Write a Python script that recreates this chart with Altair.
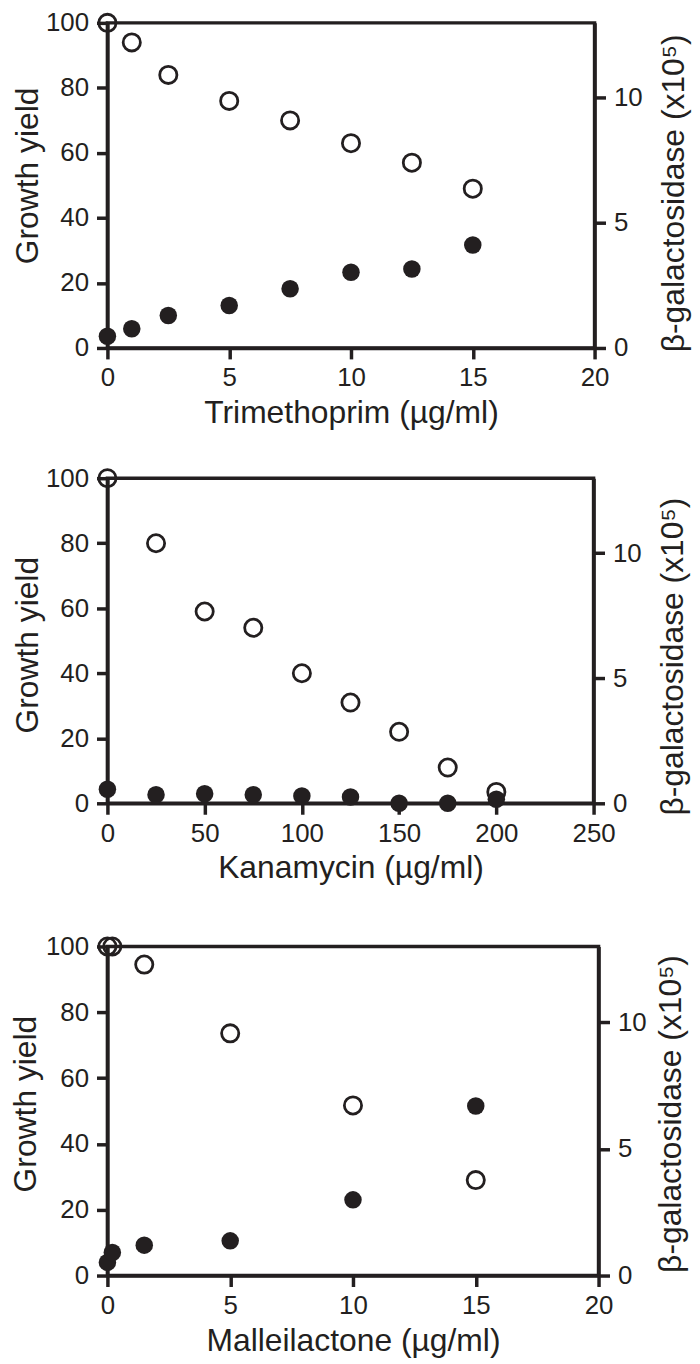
import altair as alt
import pandas as pd

BLACK = "#231f20"
FONT = "Liberation Sans"

# Panel 1: Trimethoprim
TMP_X = [0, 1, 2.5, 5, 7.5, 10, 12.5, 15]
TMP_GROWTH = [100, 94, 84, 76, 70, 63, 57, 49]
TMP_BGAL = [0.47, 0.77, 1.30, 1.70, 2.37, 3.03, 3.16, 4.12]

# Panel 2: Kanamycin
KAN_X = [0, 25, 50, 75, 100, 125, 150, 175, 200]
KAN_GROWTH = [100, 80, 59, 54, 40, 31, 22, 11, 3.5]
KAN_BGAL = [0.56, 0.34, 0.38, 0.34, 0.29, 0.25, 0.0, 0.0, 0.16]

# Panel 3: Malleilactone
MAL_X = [0, 0.2, 1.5, 5, 10, 15]
MAL_GROWTH = [100, 100, 94.5, 73.6, 51.7, 29]
MAL_BGAL = [0.52, 0.91, 1.20, 1.37, 2.99, 6.70]

GROWTH_TICKS = [0, 20, 40, 60, 80, 100]
BGAL_TICKS = [0, 5, 10]

LABEL_FS = 26
TITLE_FS = 32


def panel(xs, growth, bgal, xtitle, xmax, xticks, w, h, ltitle_y, rtitle_y,
          ltitle_pad, rtitle_pad):
    df = pd.DataFrame({"conc": xs, "growth": growth, "bgal": bgal})
    common = dict(tickSize=11, tickWidth=3.5, domainWidth=3.5, grid=False,
                  labelFontSize=LABEL_FS, titleFontSize=TITLE_FS,
                  labelFont=FONT, titleFont=FONT, titleFontWeight="normal",
                  labelColor=BLACK, titleColor=BLACK, tickColor=BLACK,
                  domainColor=BLACK,
                  labelFlush=False, labelOverlap=False, format="d")
    xenc = alt.X("conc:Q",
                 scale=alt.Scale(domain=[0, xmax], nice=False, zero=True),
                 axis=alt.Axis(values=xticks, title=xtitle, labelPadding=6,
                               titlePadding=7, **common))
    open_layer = alt.Chart(df).mark_point(
        shape="circle", filled=False, size=300, strokeWidth=2.8,
        color=BLACK, opacity=1
    ).encode(
        x=xenc,
        y=alt.Y("growth:Q", scale=alt.Scale(domain=[0, 100], nice=False),
                axis=alt.Axis(orient="left", values=GROWTH_TICKS,
                              title="Growth yield", titleY=ltitle_y,
                              titlePadding=ltitle_pad, labelPadding=8,
                              **common)),
    )
    filled_layer = alt.Chart(df).mark_circle(
        size=310, color=BLACK, opacity=1
    ).encode(
        x=xenc,
        y=alt.Y("bgal:Q", scale=alt.Scale(domain=[0, 13], nice=False),
                axis=alt.Axis(orient="right", values=BGAL_TICKS,
                              title="β-galactosidase (x10⁵)", titleAngle=270,
                              titleBaseline="top", titleY=rtitle_y,
                              titlePadding=rtitle_pad, labelPadding=8,
                              **common)),
    )
    return alt.layer(open_layer, filled_layer).resolve_scale(
        y="independent").properties(width=w, height=h)


p1 = panel(TMP_X, TMP_GROWTH, TMP_BGAL, "Trimethoprim (µg/ml)", 20,
           [0, 5, 10, 15, 20], 490, 327, 153.5, 171, 0.5, 17)
p2 = panel(KAN_X, KAN_GROWTH, KAN_BGAL, "Kanamycin (µg/ml)", 250,
           [0, 50, 100, 150, 200, 250], 489, 327, 167.5, 179, 0.5, 17)
p3 = panel(MAL_X, MAL_GROWTH, MAL_BGAL, "Malleilactone (µg/ml)", 20,
           [0, 5, 10, 15, 20], 494, 331, 158, 168, 2.5, 10)

chart = alt.vconcat(
    alt.vconcat(p1, p2, spacing=31),
    p3, spacing=44,
).properties(
    padding={"left": 0, "top": -6, "right": 0, "bottom": 0},
    background="white",
).configure_view(
    stroke=BLACK, strokeWidth=3.5
).configure_axis(
    labelFont=FONT, titleFont=FONT, labelColor=BLACK, titleColor=BLACK,
    tickColor=BLACK, domainColor=BLACK, titleFontWeight="normal"
)

chart.save("out.html", embed_options={"renderer": "svg", "actions": False})
